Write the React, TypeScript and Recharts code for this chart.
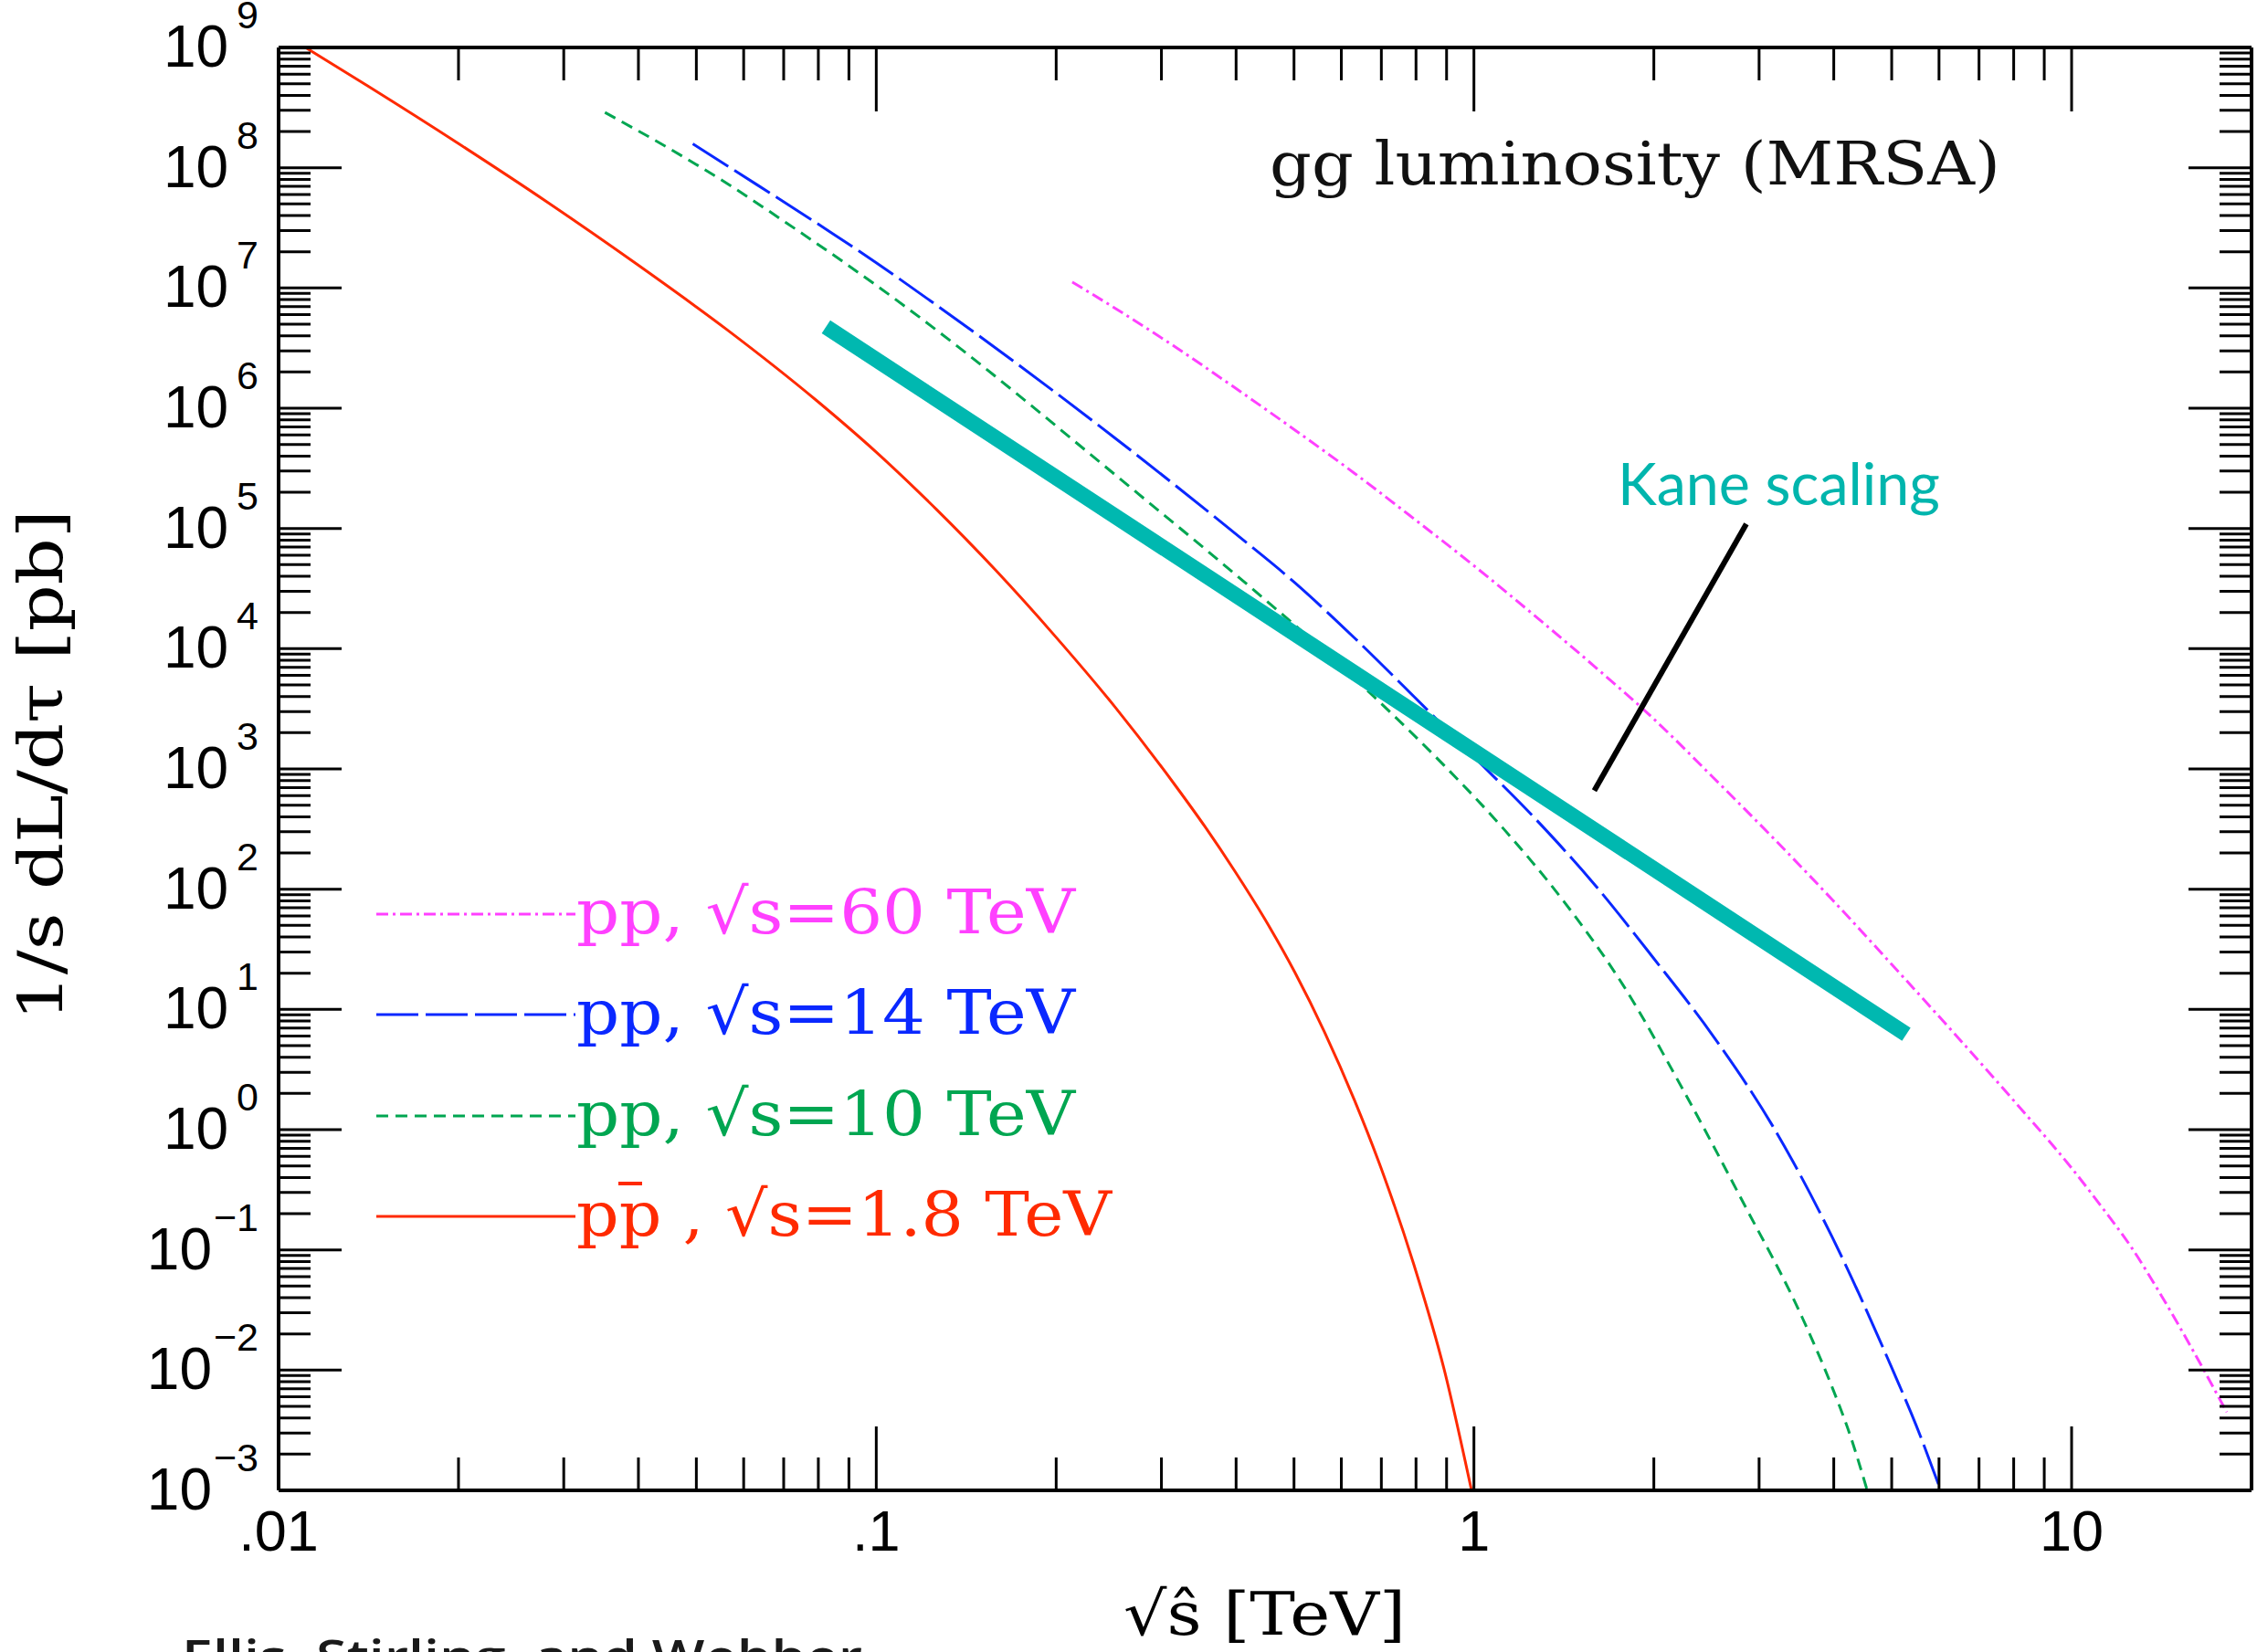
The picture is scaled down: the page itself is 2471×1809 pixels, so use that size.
import React from 'react';
import { LineChart, Line, XAxis, YAxis, ReferenceLine } from 'recharts';

const W = 2471;
const H = 1809;

// ---- axis ticks ----
const xMajorTicks = [0.01, 0.1, 1, 10];
const xMajorLabels = ['.01', '.1', '1', '10'];
const xMinorDecades = [0.01, 0.1, 1];
const minorMantissas = [2, 3, 4, 5, 6, 7, 8, 9];
const yMajorExponents = [-3, -2, -1, 0, 1, 2, 3, 4, 5, 6, 7, 8, 9];
const yMinorExponents = [-3, -2, -1, 0, 1, 2, 3, 4, 5, 6, 7, 8];

const xTicks = [
  ...xMajorTicks,
  ...xMinorDecades.flatMap((d) => minorMantissas.map((m) => m * d)),
].sort((a, b) => a - b);
const yTicks = [
  ...yMajorExponents.map((e) => Math.pow(10, e)),
  ...yMinorExponents.flatMap((e) => minorMantissas.map((m) => m * Math.pow(10, e))),
].sort((a, b) => a - b);

// ---- series (sqrt(s-hat) in TeV, 1/s dL/dtau in pb) ----
const ppbar18X = [0.01109, 0.01413, 0.01995, 0.02818, 0.03981, 0.05623, 0.07943, 0.1, 0.1259, 0.1585, 0.1995, 0.2512, 0.3162, 0.3548, 0.3981, 0.4467, 0.5012, 0.5623, 0.631, 0.7079, 0.7943, 0.8913, 0.9908];
const ppbar18Y = [1.0e9, 4.75e8, 1.6e8, 5.16e7, 1.57e7, 4.51e6, 1.16e6, 4.31e5, 1.45e5, 4.48e4, 1.26e4, 3.25e3, 733, 331, 141, 56.5, 20.5, 6.49, 1.76, 0.405, 0.0741, 0.0102, 0.001];

const pp10X = [0.03516, 0.04467, 0.05623, 0.07079, 0.08913, 0.1122, 0.1413, 0.1778, 0.2239, 0.2818, 0.3548, 0.4467, 0.5623, 0.7079, 0.8913, 1.122, 1.413, 1.778, 2.239, 2.818, 3.548, 3.981, 4.266, 4.55];
const pp10Y = [2.88e8, 1.48e8, 7.41e7, 3.47e7, 1.58e7, 6.92e6, 2.88e6, 1.15e6, 4.47e5, 1.74e5, 6.76e4, 2.57e4, 9.55e3, 3.31e3, 1.07e3, 316, 79.4, 15.8, 2.14, 0.251, 0.0269, 0.00708, 0.00282, 0.001];

const pp14X = [0.04932, 0.0631, 0.07943, 0.1, 0.1259, 0.1585, 0.1995, 0.2512, 0.3162, 0.3981, 0.5012, 0.631, 0.7943, 1.0, 1.259, 1.585, 1.995, 2.512, 3.162, 3.981, 5.012, 5.495, 6.039];
const pp14Y = [1.58e8, 7.24e7, 3.47e7, 1.62e7, 7.24e6, 3.16e6, 1.35e6, 5.62e5, 2.29e5, 9.12e4, 3.55e4, 1.23e4, 3.98e3, 1.26e3, 398, 112, 26.9, 6.03, 1.07, 0.126, 0.0102, 0.00347, 0.001];

const pp60X = [0.2128, 0.2512, 0.3162, 0.3981, 0.5012, 0.631, 0.7943, 1.0, 1.259, 1.585, 1.995, 2.512, 3.162, 3.981, 5.012, 6.31, 7.943, 10.0, 11.22, 12.59, 14.13, 15.85, 18.18];
const pp60Y = [1.12e7, 6.76e6, 3.24e6, 1.48e6, 6.61e5, 2.88e5, 1.2e5, 4.9e4, 1.91e4, 7.24e3, 2.63e3, 851, 269, 81.3, 23.4, 6.61, 1.82, 0.479, 0.229, 0.105, 0.0417, 0.0155, 0.00447];

const kaneX = [0.0824, 5.29];
const kaneY = [4.75e6, 6.2];

const pointerX = [1.59, 2.856];
const pointerY = [660, 1.09e5];

const zip = (xs: number[], ys: number[]) => xs.map((x, i) => ({ x, y: ys[i] }));

const redData = zip(ppbar18X, ppbar18Y);
const greenData = zip(pp10X, pp10Y);
const blueData = zip(pp14X, pp14Y);
const pinkData = zip(pp60X, pp60Y);
const kaneData = zip(kaneX, kaneY);

const C_RED = '#ff2a00';
const C_GREEN = '#00a651';
const C_BLUE = '#0a28ff';
const C_PINK = '#ff40ff';
const C_TEAL = '#00b8b0';

const NUM_FONT = "'Liberation Sans', Arial, Helvetica, sans-serif";
const SERIF = "'DejaVu Serif', 'Liberation Serif', serif";

const isMajor = (v: number) => {
  const l = Math.log10(v);
  return Math.abs(l - Math.round(l)) < 1e-6;
};

const MAJOR_LEN = 70;
const MINOR_LEN = 36;

function BottomTick(props: any) {
  const { x, y, payload } = props;
  const v = payload.value;
  const major = isMajor(v);
  const idx = xMajorTicks.findIndex((t) => Math.abs(t - v) / t < 1e-6);
  return (
    <g>
      <line x1={x} x2={x} y1={y} y2={y - (major ? MAJOR_LEN : MINOR_LEN)} stroke="#000" strokeWidth={3} />
      {idx >= 0 && (
        <text x={x} y={y + 66} textAnchor="middle" fontFamily={NUM_FONT} fontSize={63} fill="#000">
          {xMajorLabels[idx]}
        </text>
      )}
    </g>
  );
}

function TopTick(props: any) {
  const { x, y, payload } = props;
  const major = isMajor(payload.value);
  return <line x1={x} x2={x} y1={y} y2={y + (major ? MAJOR_LEN : MINOR_LEN)} stroke="#000" strokeWidth={3} />;
}

function LeftTick(props: any) {
  const { x, y, payload } = props;
  const v = payload.value;
  const major = isMajor(v);
  const e = Math.round(Math.log10(v));
  const expStr = e < 0 ? '\u2212' + Math.abs(e) : String(e);
  return (
    <g>
      <line x1={x} x2={x + (major ? MAJOR_LEN - 1 : MINOR_LEN - 1)} y1={y} y2={y} stroke="#000" strokeWidth={3} />
      {major && (
        <text x={x - 22} y={y + 21} textAnchor="end" fontFamily={NUM_FONT} fontSize={64} fill="#000">
          <tspan>10</tspan>
          <tspan dx={e < 0 ? 2 : 9} dy={-42} fontSize={43}>
            {expStr}
          </tspan>
        </text>
      )}
    </g>
  );
}

function RightTick(props: any) {
  const { x, y, payload } = props;
  const major = isMajor(payload.value);
  return <line x1={x} x2={x - (major ? MAJOR_LEN - 1 : MINOR_LEN - 1)} y1={y} y2={y} stroke="#000" strokeWidth={3} />;
}

const legendRows = [
  { label: 'pp, \u221As=60 TeV', color: C_PINK, dash: '13 5 3 5', lineY: 1001, base: 1022, len: 546 },
  { label: 'pp, \u221As=14 TeV', color: C_BLUE, dash: '46 8', lineY: 1111, base: 1132, len: 546 },
  { label: 'pp, \u221As=10 TeV', color: C_GREEN, dash: '13 8', lineY: 1222, base: 1243, len: 546 },
  { label: 'pp , \u221As=1.8 TeV', color: C_RED, dash: undefined, lineY: 1332, base: 1353, len: 586 },
];

const commonX = {
  type: 'number' as const,
  dataKey: 'x',
  scale: 'log' as const,
  domain: [0.01, 20],
  allowDataOverflow: true,
  ticks: xTicks,
  interval: 0 as const,
  tickSize: 0,
  tickMargin: 0,
  tickLine: false,
  height: 1,
};
const commonY = {
  type: 'number' as const,
  dataKey: 'y',
  scale: 'log' as const,
  domain: [1e-3, 1e9],
  allowDataOverflow: true,
  ticks: yTicks,
  interval: 0 as const,
  tickSize: 0,
  tickMargin: 0,
  tickLine: false,
  width: 1,
};

export default function App() {
  const axisLine = { stroke: '#000', strokeWidth: 4 };
  return (
    <div style={{ position: 'absolute', left: 0, top: 0, width: W, height: H, background: '#fff', overflow: 'hidden' }}>
      <LineChart width={W} height={H} margin={{ top: 51, right: 5, bottom: 176, left: 304 }}>
        <XAxis xAxisId="b" orientation="bottom" {...commonX} axisLine={axisLine} tick={<BottomTick />} />
        <XAxis xAxisId="t" orientation="top" {...commonX} axisLine={axisLine} tick={<TopTick />} />
        <YAxis yAxisId="l" orientation="left" {...commonY} axisLine={axisLine} tick={<LeftTick />} />
        <YAxis yAxisId="r" orientation="right" {...commonY} axisLine={axisLine} tick={<RightTick />} />
        <Line xAxisId="b" yAxisId="l" data={redData} dataKey="y" type="monotone" stroke={C_RED} strokeWidth={3} dot={false} activeDot={false} isAnimationActive={false} />
        <Line xAxisId="b" yAxisId="l" data={greenData} dataKey="y" type="monotone" stroke={C_GREEN} strokeWidth={3} strokeDasharray="13 8" dot={false} activeDot={false} isAnimationActive={false} />
        <Line xAxisId="b" yAxisId="l" data={blueData} dataKey="y" type="monotone" stroke={C_BLUE} strokeWidth={3} strokeDasharray="46 8" dot={false} activeDot={false} isAnimationActive={false} />
        <Line xAxisId="b" yAxisId="l" data={pinkData} dataKey="y" type="monotone" stroke={C_PINK} strokeWidth={3} strokeDasharray="13 5 3 5" dot={false} activeDot={false} isAnimationActive={false} />
        <Line xAxisId="b" yAxisId="l" data={kaneData} dataKey="y" type="linear" stroke={C_TEAL} strokeWidth={17} strokeLinecap="butt" dot={false} activeDot={false} isAnimationActive={false} />
        <ReferenceLine
          xAxisId="b"
          yAxisId="l"
          segment={[
            { x: pointerX[0], y: pointerY[0] },
            { x: pointerX[1], y: pointerY[1] },
          ]}
          stroke="#000"
          strokeWidth={6}
          ifOverflow="visible"
        />
      </LineChart>
      <svg width={W} height={H} style={{ position: 'absolute', left: 0, top: 0, pointerEvents: 'none' }}>
        <text x={1390} y={202} fontFamily={SERIF} fontSize={66} fill="#111" textLength={800} lengthAdjust="spacingAndGlyphs">
          gg luminosity (MRSA)
        </text>
        {legendRows.map((r) => (
          <g key={r.label}>
            <line x1={412} x2={630} y1={r.lineY} y2={r.lineY} stroke={r.color} strokeWidth={3} strokeDasharray={r.dash} />
            <text x={631} y={r.base} fontFamily={SERIF} fontSize={68} fill={r.color} textLength={r.len} lengthAdjust="spacingAndGlyphs">
              {r.label}
            </text>
          </g>
        ))}
        <line x1={677} x2={703} y1={1296} y2={1296} stroke={C_RED} strokeWidth={4} />
        <text x={1771} y={553} fontFamily="Lato, 'Open Sans', sans-serif" fontSize={64} fill="#00b5ad" textLength={353} lengthAdjust="spacingAndGlyphs">
          Kane scaling
        </text>
        <text
          transform="translate(68, 838) rotate(-90)"
          textAnchor="middle"
          fontFamily={SERIF}
          fontSize={68}
          fill="#000"
          textLength={560}
          lengthAdjust="spacingAndGlyphs"
        >
          1/s dL/d{'\u03C4'} [pb]
        </text>
        <text x={1230} y={1790} fontFamily={SERIF} fontSize={66} fill="#000" textLength={309} lengthAdjust="spacingAndGlyphs">
          {'\u221A\u015D [TeV]'}
        </text>
        <text x={199} y={1832} fontFamily="'Open Sans', Lato, sans-serif" fontWeight={600} fontSize={50} fill="#1a1a1a" textLength={745} lengthAdjust="spacingAndGlyphs">
          Ellis, Stirling, and Webber
        </text>
      </svg>
    </div>
  );
}
